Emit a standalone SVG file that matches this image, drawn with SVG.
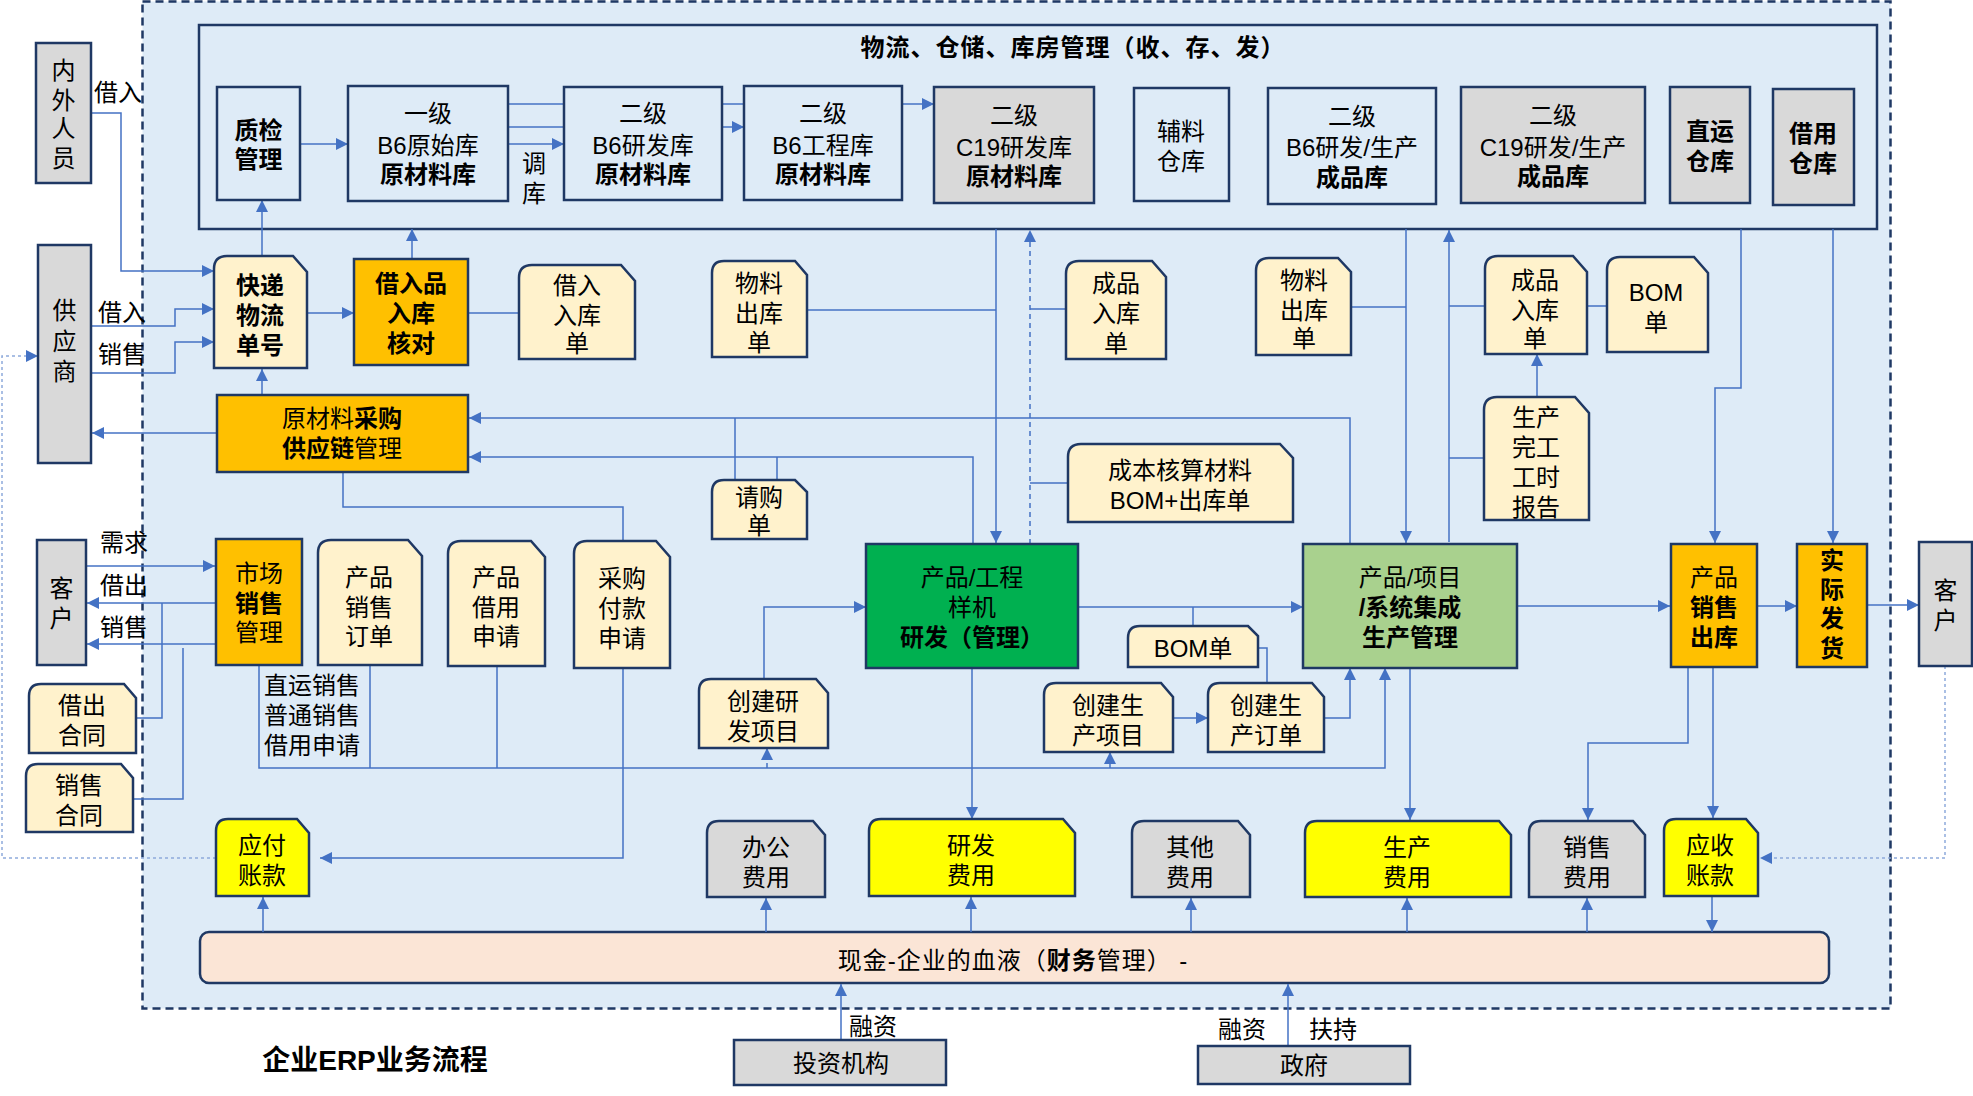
<svg xmlns="http://www.w3.org/2000/svg" width="1973" height="1096" viewBox="0 0 1973 1096">
<style>
.n{stroke:#1F3864;stroke-width:2.5}
.bgc{fill:#DEEBF7}
.doc{fill:#FFF2CC}
.gray{fill:#D9D9D9}
.org{fill:#FFC000}
.yel{fill:#FFFF00}
.grn{fill:#00B050}
.lgrn{fill:#A9D18E}
.cash{fill:#FBE5D6}
.c{fill:none;stroke:#4472C4;stroke-width:1.5}
.a{marker-end:url(#ah)}
.d{stroke-dasharray:5,4}
.o{fill:none;stroke:#8FAADC;stroke-width:1.5;stroke-dasharray:3,3}
text{font-family:'Liberation Sans','Noto Sans CJK SC',sans-serif;font-size:24px;text-anchor:middle;dominant-baseline:central;fill:#000}
.b{font-weight:bold}
</style>
<defs>
<marker id="ah" markerUnits="userSpaceOnUse" markerWidth="12" markerHeight="12" refX="12" refY="6" orient="auto"><path d="M0,0 L12,6 L0,12 Z" fill="#4472C4"/></marker>
</defs>
<rect width="1973" height="1096" fill="#FFFFFF"/>
<g id="region">
<rect x="142.5" y="1.5" width="1748" height="1007" fill="#DEEBF7" stroke="#1F3864" stroke-width="2.5" stroke-dasharray="8,5"/>
<rect x="199" y="25" width="1678" height="204" class="bgc n"/>
<text x="1073" y="47" class="b" style="letter-spacing:1px">物流、仓储、库房管理（收、存、发）</text>
<rect x="200" y="932" width="1629" height="51" rx="9" class="cash n"/>
</g>
<g id="connectors">
<path class="c a" d="M300,144H348"/>
<path class="c a" d="M508,144H564"/>
<path class="c a" d="M508,127H744"/>
<path class="c a" d="M508,104H934"/>
<path class="c a" d="M91,113H121V271H214"/>
<path class="c a" d="M91,326H175V309H214"/>
<path class="c a" d="M91,373H175V342H214"/>
<path class="c a" d="M217,433H92"/>
<path class="o a" d="M216,858H2V356H38"/>
<path class="c a" d="M262,256V200"/>
<path class="c a" d="M307,313H354"/>
<path class="c a" d="M412,259V229"/>
<path class="c" d="M468,313H519"/>
<path class="c a" d="M262,395V369"/>
<path class="c a" d="M1350,543V418H469"/>
<path class="c a" d="M973,544V457H469"/>
<path class="c" d="M343,472V507H623V541"/>
<path class="c a" d="M623,668V858H320"/>
<path class="c" d="M735,418V480M777,457V480"/>
<path class="c" d="M807,310H996"/>
<path class="c a" d="M996,229V543"/>
<path class="c d a" d="M1030,544V230"/>
<path class="c" d="M1066,309H1030M1068,483H1030"/>
<path class="c" d="M1351,307H1406"/>
<path class="c a" d="M1406,229V543"/>
<path class="c a" d="M1449,542V230"/>
<path class="c" d="M1485,306H1449M1587,306H1607M1484,458H1449"/>
<path class="c a" d="M1537,397V354"/>
<path class="c a" d="M1741,229V388H1715V543"/>
<path class="c a" d="M1833,229V543"/>
<path class="c a" d="M1078,607H1303"/>
<path class="c" d="M1193,607V626"/>
<path class="c" d="M1258,648H1267V683"/>
<path class="c a" d="M764,679V607H866"/>
<path class="c d a" d="M767,768V748"/>
<path class="c a" d="M1173,718H1208"/>
<path class="c a" d="M1324,718H1350V668"/>
<path class="c a" d="M1110,768V752"/>
<path class="c a" d="M259,665V768H1385V668"/>
<path class="c" d="M370,665V768M497,666V768"/>
<path class="c a" d="M1517,606H1670"/>
<path class="c a" d="M1757,606H1797"/>
<path class="c a" d="M1867,605H1919"/>
<path class="o a" d="M1945,666V858H1760"/>
<path class="c a" d="M1410,668V820"/>
<path class="c a" d="M1688,667V743H1588V820"/>
<path class="c a" d="M1713,667V818"/>
<path class="c a" d="M86,566H215"/>
<path class="c a" d="M216,603H87"/>
<path class="c" d="M162,603V718H136"/>
<path class="c a" d="M216,644H87"/>
<path class="c" d="M183,648V799H133"/>
<path class="c a" d="M263,932V897"/>
<path class="c a" d="M766,932V898"/>
<path class="c a" d="M972,668V819"/>
<path class="c a" d="M971,932V897"/>
<path class="c a" d="M1191,932V898"/>
<path class="c a" d="M1407,932V898"/>
<path class="c a" d="M1587,932V898"/>
<path class="c a" d="M1712,896V932"/>
<path class="c a" d="M841,1040V984"/>
<path class="c a" d="M1288,1046V984"/>
</g>
<g id="labels">
<text x="118" y="92">借入</text>
<text x="122" y="312">借入</text>
<text x="122" y="354">销售</text>
<text x="124" y="542">需求</text>
<text x="124" y="585">借出</text>
<text x="124" y="627">销售</text>
<text x="534" y="163">调</text>
<text x="534" y="193">库</text>
<text x="264" y="685" style="text-anchor:start">直运销售</text>
<text x="264" y="715" style="text-anchor:start">普通销售</text>
<text x="264" y="745" style="text-anchor:start">借用申请</text>
<text x="873" y="1026">融资</text>
<text x="1242" y="1029">融资</text>
<text x="1333" y="1029">扶持</text>
<text x="375" y="1060" class="b" style="font-size:28px">企业ERP业务流程</text>
<text x="1013" y="960" style="letter-spacing:1px">现金-企业的血液（<tspan class="b">财务</tspan>管理） -</text>
</g>
<g id="n-zhijian"><rect x="217" y="87" width="83" height="113" class="bgc n"/><text class="b" x="258.5" y="130">质检</text><text class="b" x="258.5" y="159">管理</text></g>
<g id="n-yiji"><rect x="348" y="86" width="160" height="115" class="bgc n"/><text x="428" y="113">一级</text><text x="428" y="145">B6原始库</text><text x="428" y="174" class="b">原材料库</text></g>
<g id="n-b6yf"><rect x="564" y="87" width="158" height="113" class="bgc n"/><text x="643" y="113">二级</text><text x="643" y="145">B6研发库</text><text x="643" y="174" class="b">原材料库</text></g>
<g id="n-b6gc"><rect x="744" y="86" width="158" height="114" class="bgc n"/><text x="823" y="113">二级</text><text x="823" y="145">B6工程库</text><text x="823" y="174" class="b">原材料库</text></g>
<g id="n-c19yf"><rect x="934" y="87" width="160" height="116" class="gray n"/><text x="1014" y="115">二级</text><text x="1014" y="147">C19研发库</text><text x="1014" y="176" class="b">原材料库</text></g>
<g id="n-fuliao"><rect x="1134" y="88" width="95" height="113" class="bgc n"/><text x="1181" y="131">辅料</text><text x="1181" y="161">仓库</text></g>
<g id="n-b6cp"><rect x="1268" y="88" width="168" height="116" class="bgc n"/><text x="1352" y="116">二级</text><text x="1352" y="147">B6研发/生产</text><text x="1352" y="177" class="b">成品库</text></g>
<g id="n-c19cp"><rect x="1461" y="87" width="184" height="116" class="gray n"/><text x="1553" y="115">二级</text><text x="1553" y="147">C19研发/生产</text><text x="1553" y="176" class="b">成品库</text></g>
<g id="n-zhiyun"><rect x="1670" y="87" width="80" height="116" class="gray n"/><text x="1710" y="131" class="b">直运</text><text x="1710" y="161" class="b">仓库</text></g>
<g id="n-jieyong"><rect x="1773" y="89" width="81" height="116" class="gray n"/><text x="1813" y="133" class="b">借用</text><text x="1813" y="163" class="b">仓库</text></g>
<g id="n-neiwai"><rect x="36" y="43" width="55" height="140" class="gray n"/><text x="63.5" y="70">内</text><text x="63.5" y="100">外</text><text x="63.5" y="128">人</text><text x="63.5" y="158">员</text></g>
<g id="n-gys"><rect x="38" y="245" width="53" height="218" class="gray n"/><text x="64.5" y="310">供</text><text x="64.5" y="341">应</text><text x="64.5" y="371">商</text></g>
<g id="n-kuaidi"><path d="M214,368V269Q214,256 227,256H293L307,272V368Z" class="doc n"/><text x="260" y="285" class="b">快递</text><text x="260" y="315" class="b">物流</text><text x="260" y="345" class="b">单号</text></g>
<g id="n-jieru"><rect x="354" y="259" width="114" height="106" class="org n"/><text x="411" y="283" class="b">借入品</text><text x="411" y="313" class="b">入库</text><text x="411" y="343" class="b">核对</text></g>
<g id="n-jierudan"><path d="M519,359V278Q519,265 532,265H621L635,281V359Z" class="doc n"/><text x="577" y="285">借入</text><text x="577" y="315">入库</text><text x="577" y="343">单</text></g>
<g id="n-caigou"><rect x="217" y="395" width="251" height="77" class="org n"/><text x="342" y="418">原材料<tspan class="b">采购</tspan></text><text x="342" y="448"><tspan class="b">供应链</tspan>管理</text></g>
<g id="n-qinggou"><path d="M712,539V492Q712,480 724,480H795L807,492V539Z" class="doc n"/><text x="759" y="497">请购</text><text x="759" y="525">单</text></g>
<g id="n-wlck1"><path d="M712,357V273Q712,261 724,261H795L807,275V357Z" class="doc n"/><text x="759" y="283">物料</text><text x="759" y="313">出库</text><text x="759" y="342">单</text></g>
<g id="n-cprk1"><path d="M1066,359V274Q1066,261 1079,261H1152L1166,277V359Z" class="doc n"/><text x="1116" y="283">成品</text><text x="1116" y="313">入库</text><text x="1116" y="343">单</text></g>
<g id="n-chengben"><path d="M1068,522V457Q1068,444 1081,444H1280L1293,458V522Z" class="doc n"/><text x="1180" y="470">成本核算材料</text><text x="1180" y="500">BOM+出库单</text></g>
<g id="n-wlck2"><path d="M1256,355V271Q1256,258 1269,258H1338L1351,272V355Z" class="doc n"/><text x="1304" y="280">物料</text><text x="1304" y="310">出库</text><text x="1304" y="338">单</text></g>
<g id="n-cprk2"><path d="M1485,354V269Q1485,256 1498,256H1573L1587,272V354Z" class="doc n"/><text x="1535" y="280">成品</text><text x="1535" y="310">入库</text><text x="1535" y="338">单</text></g>
<g id="n-bom1"><path d="M1607,352V270Q1607,257 1620,257H1694L1708,273V352Z" class="doc n"/><text x="1656" y="292">BOM</text><text x="1656" y="322">单</text></g>
<g id="n-wangong"><path d="M1484,520V410Q1484,397 1497,397H1575L1589,413V520Z" class="doc n"/><text x="1536" y="417">生产</text><text x="1536" y="447">完工</text><text x="1536" y="477">工时</text><text x="1536" y="507">报告</text></g>
<g id="n-yanfa"><rect x="866" y="544" width="212" height="124" class="grn n"/><text x="972" y="577">产品/工程</text><text x="972" y="607">样机</text><text x="972" y="637" class="b">研发（管理）</text></g>
<g id="n-bom2"><path d="M1128,667V638Q1128,626 1140,626H1248L1258,636V667Z" class="doc n"/><text x="1193" y="648">BOM单</text></g>
<g id="n-cjyf"><path d="M699,748V691Q699,679 711,679H816L828,693V748Z" class="doc n"/><text x="763" y="701">创建研</text><text x="763" y="731">发项目</text></g>
<g id="n-cjscxm"><path d="M1044,752V695Q1044,683 1056,683H1161L1173,697V752Z" class="doc n"/><text x="1108" y="705">创建生</text><text x="1108" y="735">产项目</text></g>
<g id="n-cjscdd"><path d="M1208,752V695Q1208,683 1220,683H1312L1324,697V752Z" class="doc n"/><text x="1266" y="705">创建生</text><text x="1266" y="735">产订单</text></g>
<g id="n-jicheng"><rect x="1303" y="544" width="214" height="124" class="lgrn n"/><text x="1410" y="577">产品/项目</text><text x="1410" y="607" class="b">/系统集成</text><text x="1410" y="637" class="b">生产管理</text></g>
<g id="n-xsck"><rect x="1671" y="544" width="86" height="123" class="org n"/><text x="1714" y="577">产品</text><text x="1714" y="607" class="b">销售</text><text x="1714" y="637" class="b">出库</text></g>
<g id="n-fahuo"><rect x="1797" y="544" width="70" height="123" class="org n"/><text x="1832" y="560" class="b">实</text><text x="1832" y="589" class="b">际</text><text x="1832" y="618" class="b">发</text><text x="1832" y="648" class="b">货</text></g>
<g id="n-kehu-r"><rect x="1919" y="542" width="53" height="124" class="gray n"/><text x="1945.5" y="590">客</text><text x="1945.5" y="620">户</text></g>
<g id="n-kehu-l"><rect x="37" y="540" width="49" height="125" class="gray n"/><text x="61.5" y="588">客</text><text x="61.5" y="618">户</text></g>
<g id="n-jiechuht"><path d="M29,753V696Q29,684 41,684H124L136,698V753Z" class="doc n"/><text x="82" y="705">借出</text><text x="82" y="735">合同</text></g>
<g id="n-xiaoshouht"><path d="M26,832V776Q26,764 38,764H121L133,778V832Z" class="doc n"/><text x="79" y="785">销售</text><text x="79" y="815">合同</text></g>
<g id="n-shichang"><rect x="216" y="539" width="86" height="126" class="org n"/><text x="259" y="573">市场</text><text x="259" y="603" class="b">销售</text><text x="259" y="632">管理</text></g>
<g id="n-xsdd"><path d="M318,665V553Q318,540 331,540H408L422,556V665Z" class="doc n"/><text x="369" y="577">产品</text><text x="369" y="607">销售</text><text x="369" y="636">订单</text></g>
<g id="n-jysq"><path d="M448,666V554Q448,541 461,541H531L545,557V666Z" class="doc n"/><text x="496" y="577">产品</text><text x="496" y="607">借用</text><text x="496" y="636">申请</text></g>
<g id="n-fksq"><path d="M574,668V554Q574,541 587,541H656L670,557V668Z" class="doc n"/><text x="622" y="578">采购</text><text x="622" y="608">付款</text><text x="622" y="638">申请</text></g>
<g id="n-yingfu"><path d="M216,896V831Q216,819 228,819H297L309,833V896Z" class="yel n"/><text x="262" y="845">应付</text><text x="262" y="875">账款</text></g>
<g id="n-bangong"><path d="M707,897V833Q707,821 719,821H813L825,835V897Z" class="gray n"/><text x="766" y="847">办公</text><text x="766" y="877">费用</text></g>
<g id="n-yffy"><path d="M869,896V831Q869,819 881,819H1063L1075,833V896Z" class="yel n"/><text x="971" y="845">研发</text><text x="971" y="875">费用</text></g>
<g id="n-qita"><path d="M1132,897V833Q1132,821 1144,821H1238L1250,835V897Z" class="gray n"/><text x="1190" y="847">其他</text><text x="1190" y="877">费用</text></g>
<g id="n-scfy"><path d="M1305,897V833Q1305,821 1317,821H1499L1511,835V897Z" class="yel n"/><text x="1407" y="847">生产</text><text x="1407" y="877">费用</text></g>
<g id="n-xsfy"><path d="M1529,897V833Q1529,821 1541,821H1633L1645,835V897Z" class="gray n"/><text x="1587" y="847">销售</text><text x="1587" y="877">费用</text></g>
<g id="n-yingshou"><path d="M1664,896V831Q1664,819 1676,819H1746L1758,833V896Z" class="yel n"/><text x="1710" y="845">应收</text><text x="1710" y="875">账款</text></g>
<g id="n-touzi"><rect x="734" y="1040" width="212" height="45" class="gray n"/><text x="841" y="1063">投资机构</text></g>
<g id="n-zhengfu"><rect x="1198" y="1046" width="212" height="38" class="gray n"/><text x="1304" y="1065">政府</text></g>
</svg>
